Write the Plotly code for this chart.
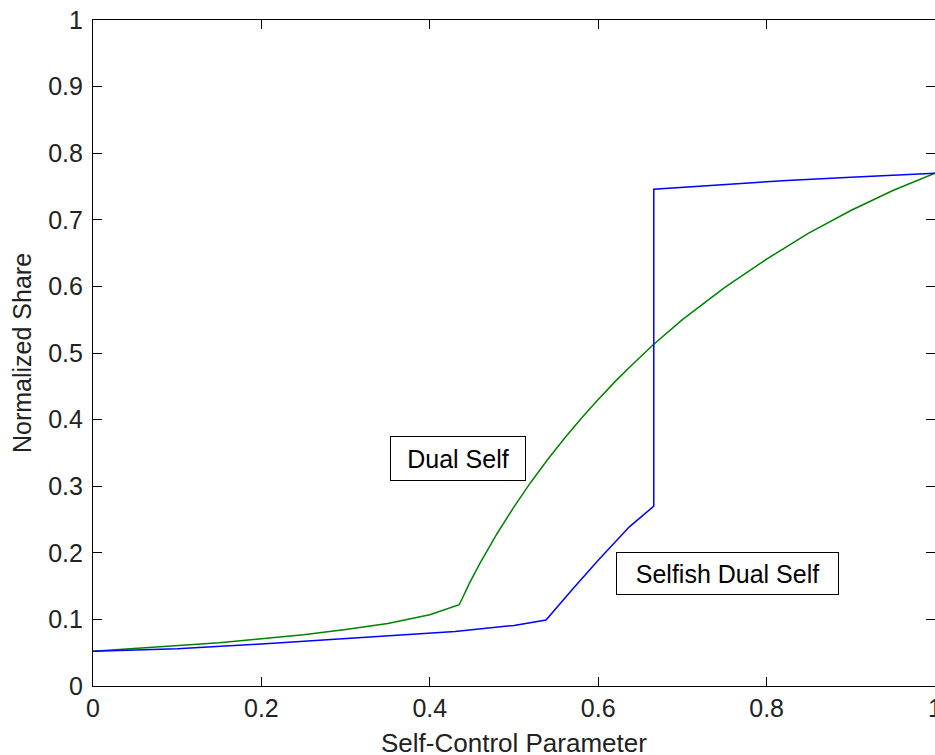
import plotly.graph_objects as go

# Dual Self (green)
dual_x = [0, 0.05, 0.1, 0.15, 0.2, 0.25, 0.3, 0.35, 0.4, 0.435, 0.447, 0.459, 0.48, 0.5, 0.52, 0.54, 0.56, 0.58, 0.6, 0.62, 0.64, 0.665, 0.7, 0.75, 0.8, 0.85, 0.9, 0.95, 1.0]
dual_y = [0.052, 0.056, 0.060, 0.065, 0.071, 0.077, 0.085, 0.094, 0.107, 0.122, 0.154, 0.183, 0.229, 0.269, 0.306, 0.340, 0.372, 0.402, 0.430, 0.457, 0.482, 0.512, 0.550, 0.598, 0.641, 0.680, 0.714, 0.744, 0.770]

# Selfish Dual Self (blue)
selfish_x = [0, 0.1, 0.2, 0.3, 0.4, 0.43, 0.5, 0.538, 0.57, 0.6, 0.637, 0.666, 0.666, 0.75, 0.824, 0.9, 1.0]
selfish_y = [0.052, 0.056, 0.063, 0.071, 0.079, 0.082, 0.091, 0.099, 0.146, 0.189, 0.239, 0.270, 0.746, 0.753, 0.759, 0.764, 0.770]

x_ticks = [0, 0.2, 0.4, 0.6, 0.8, 1]
x_tick_labels = ["0", "0.2", "0.4", "0.6", "0.8", "1"]
y_ticks = [0, 0.1, 0.2, 0.3, 0.4, 0.5, 0.6, 0.7, 0.8, 0.9, 1]
y_tick_labels = ["0", "0.1", "0.2", "0.3", "0.4", "0.5", "0.6", "0.7", "0.8", "0.9", "1"]

FONT = "Arial, Liberation Sans, sans-serif"
FS = 25

fig = go.Figure()
fig.add_trace(go.Scatter(x=dual_x, y=dual_y, mode="lines",
                         line=dict(color="rgb(0,128,0)", width=1.5),
                         name="Dual Self", showlegend=False))
fig.add_trace(go.Scatter(x=selfish_x, y=selfish_y, mode="lines",
                         line=dict(color="rgb(0,0,255)", width=1.5),
                         name="Selfish Dual Self", showlegend=False))

axis_common = dict(showgrid=False, zeroline=False, showline=True, linecolor="black",
                   linewidth=1.2, mirror="ticks", ticks="inside", ticklen=9,
                   tickcolor="black", tickwidth=1.2, automargin=False,
                   ticklabeloverflow="allow",
                   tickfont=dict(family=FONT, size=FS, color="#222"))

fig.update_xaxes(range=[0, 1], tickvals=x_ticks, ticktext=x_tick_labels, **axis_common)
fig.update_yaxes(range=[0, 1], tickvals=y_ticks, ticktext=y_tick_labels,
                 ticklabelstandoff=4, **axis_common)

fig.add_annotation(x=0.433, y=0.342, xref="x", yref="y", text="Dual Self",
                   showarrow=False, font=dict(family=FONT, size=FS, color="black"),
                   bordercolor="black", borderwidth=1, borderpad=8, bgcolor="white",
                   width=118, height=27)
fig.add_annotation(x=0.753, y=0.169, xref="x", yref="y", text="Selfish Dual Self",
                   showarrow=False, font=dict(family=FONT, size=FS, color="black"),
                   bordercolor="black", borderwidth=1, borderpad=8, bgcolor="white",
                   width=205, height=25)

fig.add_annotation(x=0.5, y=-0.0856, xref="paper", yref="paper", text="Self-Control Parameter",
                   showarrow=False, xanchor="center", yanchor="middle",
                   font=dict(family=FONT, size=26, color="#222"))
fig.add_annotation(x=-0.0843, y=0.5, xref="paper", yref="paper", text="Normalized Share",
                   showarrow=False, xanchor="center", yanchor="middle", textangle=-90,
                   font=dict(family=FONT, size=FS, color="#222"))

fig.update_layout(width=935, height=755, margin=dict(l=93, r=0, t=20, b=69),
                  plot_bgcolor="white", paper_bgcolor="white",
                  font=dict(family=FONT, size=FS))

# remove the default 8px body margin so the figure fills the window exactly
fig.write_html("out.html", config={"displayModeBar": False},
               post_script="document.body.style.margin='0';document.body.style.overflow='hidden';")
